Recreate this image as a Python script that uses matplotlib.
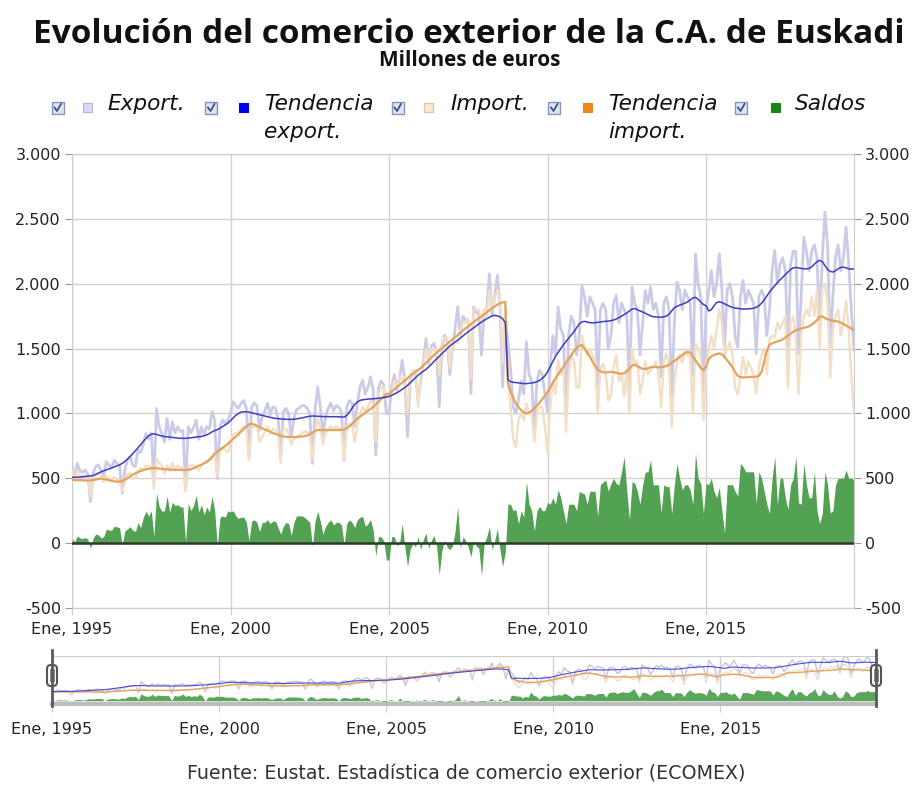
import numpy as np
import matplotlib.pyplot as plt
from matplotlib.patches import Rectangle, FancyBboxPatch
from matplotlib.lines import Line2D
from matplotlib.transforms import IdentityTransform

W, H = 915, 785

# Monthly data, Jan 1995 - Sep 2019 (millones de euros)
export_raw = [
    600, 490, 615, 560, 545, 564, 530, 320, 540, 590, 603, 560,      # 1995
    520, 628, 600, 580, 640, 615, 600, 385, 564, 640, 667, 600,      # 1996
    590, 718, 700, 760, 846, 800, 850, 474, 1038, 900, 846, 780,     # 1997
    962, 800, 936, 850, 897, 860, 870, 410, 897, 850, 890, 949,      # 1998
    800, 897, 840, 900, 880, 1013, 950, 500, 897, 950, 920, 949,     # 1999
    1000, 1090, 1060, 1040, 1080, 1100, 1040, 654, 1050, 1080, 1060, 870,   # 2000
    980, 1020, 1080, 990, 1050, 1040, 960, 690, 1010, 1040, 1000, 820,      # 2001
    960, 1030, 1040, 1060, 1060, 1040, 1000, 615, 1020, 1205, 1050, 830,    # 2002
    980, 1040, 1080, 1020, 1060, 1050, 1010, 640, 1050, 1100, 1080, 900,    # 2003
    1080, 1200, 1256, 1150, 1200, 1282, 1180, 680, 1200, 1250, 1220, 1000,  # 2004
    1000, 1200, 1300, 1180, 1280, 1410, 1250, 820, 1250, 1330, 1300, 1100,  # 2005
    1250, 1400, 1577, 1380, 1520, 1540, 1480, 1051, 1500, 1602, 1560, 1300, # 2006
    1500, 1650, 1820, 1600, 1750, 1720, 1700, 1154, 1820, 1780, 1760, 1450, # 2007
    1795, 1800, 2077, 1750, 1900, 2064, 1850, 1205, 1750, 1550, 1350, 1050, # 2008
    1000, 1100, 1250, 1150, 1551, 1300, 1250, 872, 1250, 1333, 1300, 1150,  # 2009
    1013, 1350, 1600, 1450, 1820, 1650, 1600, 1013, 1600, 1750, 1700, 1450, # 2010
    1600, 1987, 1900, 1750, 1900, 1850, 1800, 1205, 1800, 1850, 1800, 1500, # 2011
    1600, 1850, 1910, 1700, 1850, 1800, 1750, 1180, 1974, 1850, 1800, 1450, # 2012
    1700, 1949, 1850, 1974, 1800, 1850, 1750, 1282, 1850, 1900, 1800, 1128, # 2013
    1700, 2013, 1950, 1800, 1950, 1900, 1850, 1300, 2230, 2000, 1900, 1180, # 2014
    1800, 1950, 2100, 1900, 2000, 2230, 1950, 1513, 1950, 2000, 1900, 1600, # 2015
    1513, 1900, 2025, 1850, 1950, 1900, 1850, 1461, 1900, 1950, 1900, 1600, # 2016
    1800, 2100, 2256, 2000, 2150, 2200, 2100, 1461, 2150, 2250, 2250, 1461, # 2017
    1900, 2359, 2250, 2100, 2250, 2300, 2200, 1650, 2200, 2551, 2300, 1513, # 2018
    1900, 2200, 2300, 2100, 2200, 2436, 2150, 1800, 1490,                   # 2019
]

import_raw = [
    560, 480, 560, 520, 510, 520, 500, 360, 500, 520, 540, 520,      # 1995
    470, 520, 500, 480, 510, 490, 480, 400, 470, 530, 540, 500,      # 1996
    500, 560, 580, 560, 600, 590, 600, 420, 650, 620, 600, 530,      # 1997
    600, 560, 620, 560, 600, 580, 590, 400, 590, 600, 600, 580,      # 1998
    560, 600, 620, 620, 640, 650, 700, 520, 700, 740, 720, 700,      # 1999
    760, 840, 850, 850, 880, 900, 880, 640, 880, 900, 900, 780,      # 2000
    820, 860, 900, 840, 880, 870, 840, 620, 880, 880, 850, 760,      # 2001
    800, 820, 830, 850, 860, 860, 840, 640, 850, 960, 880, 760,      # 2002
    850, 880, 900, 880, 900, 890, 870, 650, 900, 920, 920, 780,      # 2003
    900, 1000, 1050, 1020, 1050, 1100, 1080, 780, 1150, 1200, 1200, 1130,   # 2004
    1130, 1150, 1250, 1200, 1280, 1260, 1280, 1000, 1300, 1330, 1330, 1050, # 2005
    1300, 1370, 1500, 1420, 1500, 1480, 1500, 1295, 1560, 1580, 1590, 1350, # 2006
    1520, 1560, 1540, 1640, 1700, 1700, 1730, 1260, 1800, 1800, 1800, 1700, # 2007
    1800, 1750, 1950, 1800, 1880, 1950, 1900, 1385, 1820, 1250, 1050, 800,  # 2008
    740, 950, 1000, 950, 1077, 1000, 1000, 780, 1000, 1050, 1050, 900,      # 2009
    700, 1050, 1250, 1150, 1410, 1300, 1350, 860, 1300, 1450, 1400, 1200,   # 2010
    1200, 1600, 1520, 1450, 1500, 1450, 1400, 1000, 1350, 1380, 1313, 1100, # 2011
    1140, 1350, 1450, 1250, 1300, 1133, 1350, 1000, 1500, 1388, 1400, 1150, # 2012
    1250, 1400, 1300, 1333, 1350, 1400, 1300, 1050, 1400, 1464, 1364, 900,  # 2013
    1250, 1398, 1450, 1390, 1500, 1450, 1440, 1000, 1538, 1500, 1440, 950,  # 2014
    1340, 1500, 1600, 1500, 1650, 1800, 1700, 1436, 1500, 1550, 1450, 1200, # 2015
    1150, 1285, 1435, 1300, 1400, 1350, 1300, 1150, 1350, 1450, 1500, 1300, # 2016
    1570, 1600, 1589, 1700, 1650, 1700, 1750, 1200, 1700, 1750, 1583, 1150, # 2017
    1600, 1744, 1800, 1750, 1900, 1750, 1950, 1500, 1970, 2000, 1850, 1280, # 2018
    1650, 1750, 1800, 1600, 1700, 1872, 1650, 1300, 1000,                   # 2019
]

export_trend = [
    508, 508, 509, 510, 512, 514, 516, 518, 522, 530, 540, 550,      # 1995
    558, 565, 572, 580, 588, 596, 603, 615, 630, 648, 668, 690,      # 1996
    712, 735, 760, 785, 808, 828, 840, 842, 838, 832, 826, 821,      # 1997
    820, 818, 815, 812, 810, 808, 808, 808, 810, 812, 815, 818,      # 1998
    820, 822, 828, 835, 845, 858, 868, 875, 885, 898, 910, 925,      # 1999
    945, 965, 985, 1000, 1010, 1013, 1013, 1010, 1005, 1000, 995, 990,      # 2000
    985, 980, 975, 970, 965, 962, 960, 958, 956, 955, 954, 954,             # 2001
    955, 958, 962, 966, 970, 975, 978, 980, 980, 978, 977, 976,             # 2002
    975, 975, 975, 975, 975, 974, 973, 972, 985, 1010, 1040, 1070,          # 2003
    1088, 1100, 1105, 1108, 1110, 1112, 1113, 1115, 1117, 1120, 1123, 1127, # 2004
    1130, 1140, 1150, 1160, 1172, 1186, 1200, 1216, 1235, 1255, 1275, 1295, # 2005
    1310, 1325, 1340, 1358, 1378, 1400, 1420, 1440, 1460, 1480, 1500, 1520, # 2006
    1535, 1550, 1565, 1580, 1598, 1615, 1630, 1645, 1660, 1675, 1690, 1705, # 2007
    1718, 1730, 1742, 1752, 1756, 1752, 1745, 1730, 1700, 1260, 1245, 1240, # 2008
    1238, 1235, 1232, 1230, 1230, 1232, 1235, 1238, 1245, 1255, 1270, 1290, # 2009
    1320, 1360, 1400, 1440, 1470, 1500, 1530, 1555, 1580, 1605, 1630, 1660, # 2010
    1690, 1705, 1710, 1705, 1700, 1698, 1700, 1702, 1705, 1708, 1710, 1712, # 2011
    1715, 1720, 1728, 1738, 1750, 1762, 1775, 1790, 1805, 1808, 1800, 1790, # 2012
    1782, 1772, 1762, 1752, 1746, 1744, 1742, 1742, 1745, 1750, 1765, 1790, # 2013
    1815, 1825, 1835, 1842, 1850, 1860, 1875, 1890, 1895, 1880, 1860, 1840, # 2014
    1830, 1790, 1800, 1830, 1855, 1860, 1855, 1845, 1835, 1825, 1818, 1812, # 2015
    1810, 1806, 1804, 1805, 1806, 1808, 1812, 1818, 1830, 1850, 1875, 1905, # 2016
    1935, 1960, 1985, 2008, 2030, 2050, 2070, 2090, 2110, 2122, 2125, 2122, # 2017
    2118, 2115, 2115, 2118, 2130, 2150, 2170, 2180, 2170, 2140, 2110, 2095, # 2018
    2090, 2100, 2115, 2125, 2128, 2122, 2115, 2112, 2115,                   # 2019
]

import_trend = [
    488, 487, 486, 485, 484, 483, 482, 483, 486, 490, 495, 498,      # 1995
    495, 490, 485, 480, 476, 474, 474, 478, 488, 502, 515, 528,      # 1996
    538, 548, 556, 563, 569, 574, 577, 578, 577, 575, 572, 570,      # 1997
    568, 567, 566, 565, 565, 565, 564, 564, 566, 570, 578, 588,      # 1998
    598, 605, 615, 628, 645, 665, 688, 705, 720, 735, 750, 765,      # 1999
    785, 805, 820, 840, 860, 880, 900, 915, 920, 915, 905, 895,      # 2000
    885, 875, 868, 860, 850, 842, 835, 828, 822, 820, 818, 818,      # 2001
    818, 818, 820, 822, 825, 830, 840, 852, 865, 872, 872, 872,      # 2002
    872, 872, 872, 872, 872, 872, 872, 875, 885, 900, 920, 940,      # 2003
    960, 975, 990, 1005, 1020, 1035, 1050, 1070, 1090, 1110, 1130, 1150,    # 2004
    1150, 1168, 1185, 1203, 1220, 1238, 1255, 1272, 1290, 1305, 1320, 1335, # 2005
    1350, 1370, 1390, 1410, 1430, 1450, 1468, 1485, 1502, 1518, 1535, 1552, # 2006
    1570, 1588, 1605, 1622, 1640, 1657, 1672, 1688, 1705, 1720, 1735, 1750, # 2007
    1765, 1780, 1795, 1810, 1825, 1838, 1848, 1856, 1860, 1240, 1170, 1120, # 2008
    1080, 1050, 1025, 1008, 1000, 1005, 1020, 1040, 1060, 1085, 1110, 1135, # 2009
    1165, 1200, 1235, 1270, 1300, 1330, 1360, 1390, 1420, 1450, 1480, 1505, # 2010
    1522, 1526, 1500, 1470, 1440, 1400, 1365, 1340, 1325, 1318, 1315, 1318, # 2011
    1320, 1318, 1312, 1308, 1306, 1310, 1325, 1345, 1370, 1375, 1365, 1352, # 2012
    1345, 1342, 1348, 1355, 1360, 1358, 1355, 1356, 1360, 1365, 1375, 1390, # 2013
    1405, 1420, 1435, 1450, 1465, 1474, 1470, 1440, 1410, 1380, 1350, 1335, # 2014
    1360, 1420, 1440, 1450, 1458, 1462, 1455, 1435, 1410, 1385, 1355, 1320, # 2015
    1290, 1280, 1278, 1278, 1280, 1282, 1282, 1283, 1290, 1320, 1400, 1480, # 2016
    1530, 1540, 1548, 1555, 1562, 1570, 1585, 1600, 1615, 1630, 1640, 1648, # 2017
    1655, 1660, 1665, 1672, 1685, 1700, 1720, 1745, 1748, 1735, 1725, 1720, # 2018
    1715, 1712, 1708, 1700, 1690, 1678, 1665, 1655, 1640,                   # 2019
]

tick_years = [1995, 2000, 2005, 2010, 2015]
tick_labels = ['Ene, %d' % y for y in tick_years]
y_ticks = [-500, 0, 500, 1000, 1500, 2000, 2500, 3000]
y_labels = ['{:,}'.format(v).replace(',', '.') for v in y_ticks]

legend_names = [['Export.'], ['Tendencia', 'export.'], ['Import.'],
                ['Tendencia', 'import.'], ['Saldos']]
legend_colors = ['#d9d9f7', '#0000ee', '#fde6cf', '#f0861e', '#17861a']

# derived series
x = 1995 + np.arange(len(export_raw)) / 12.0
exp_arr = np.array(export_raw)
imp_arr = np.array(import_raw)
saldos = exp_arr - imp_arr

C_EXP = '#cbcbe7'
C_IMP = '#f3dec6'
C_TEXP = '#3d3dc4'
C_TIMP = '#e2a35c'
C_SAL = '#53a153'

fig = plt.figure(figsize=(W / 100, H / 100), dpi=100)
fig.patch.set_facecolor('white')
px = IdentityTransform()


def fx(p):
    return p / W


def fy(p):
    return 1 - p / H


def fit_width(t, width):
    r = fig.canvas.get_renderer()
    bb = t.get_window_extent(r)
    t.set_fontsize(t.get_fontsize() * width / bb.width)


# main chart
ax = fig.add_axes([fx(72), fy(608), (854 - 72) / W, (608 - 154) / H])
ax.fill_between(x, 0, saldos, color=C_SAL, lw=0, zorder=2)
ax.plot(x, export_raw, color=C_EXP, lw=2.0, zorder=3)
ax.plot(x, import_raw, color=C_IMP, lw=1.7, zorder=4)
ax.plot(x, import_trend, color=C_TIMP, lw=1.6, zorder=5)
ax.plot(x, export_trend, color=C_TEXP, lw=1.1, zorder=6)
ax.axhline(0, color='#2b3a2b', lw=1.8, zorder=7)

ax.set_xlim(x[0], x[-1])
ax.set_ylim(-500, 3000)
ax.set_yticks(y_ticks)
ax.set_yticklabels(y_labels)
ax.set_xticks(tick_years)
ax.set_xticklabels(tick_labels)
ax.grid(True, color='#d2d2d2', lw=1)
ax.set_axisbelow(True)
for s in ax.spines.values():
    s.set_color('#cccccc')
ax.tick_params(axis='y', left=True, right=True, labelleft=True, labelright=True,
               length=5, color='#999999', labelsize=11.5, labelcolor='#222222', pad=3)
ax.tick_params(axis='x', length=5, color='#cccccc', labelsize=11.5,
               labelcolor='#222222', pad=5)

# navigator
nav = fig.add_axes([fx(52), fy(704), (876 - 52) / W, (704 - 656) / H])
nav.fill_between(x, 0, saldos, color='#5aa65a', lw=0)
nav.plot(x, export_raw, color='#c4c4de', lw=1.0)
nav.plot(x, import_raw, color='#f0d8bc', lw=0.8)
nav.plot(x, import_trend, color=C_TIMP, lw=1.0)
nav.plot(x, export_trend, color='#4a4ad6', lw=0.8)
nav.set_xlim(x[0], x[-1])
nav.set_ylim(-180, 2470)
nav.set_yticks([])
nav.set_xticks(tick_years)
nav.set_xticklabels(tick_labels)
nav.grid(True, axis='x', color='#d2d2d2', lw=1)
nav.set_axisbelow(True)
nav.tick_params(axis='x', length=6, color='#cccccc', labelsize=11.5,
                labelcolor='#222222', pad=7)
nav.spines['top'].set_color('#cccccc')
nav.spines['bottom'].set_color('#bdbdbd')
nav.spines['bottom'].set_linewidth(3)
nav.spines['left'].set_visible(False)
nav.spines['right'].set_visible(False)

for hx in (52, 876):
    fig.add_artist(Line2D([hx, hx], [H - 650, H - 706], color='#5a5a5a', lw=2,
                          transform=px))
    fig.add_artist(FancyBboxPatch((hx - 5, H - 686), 10, 21,
                                  boxstyle='round,pad=0,rounding_size=4',
                                  fc='white', ec='#555555', lw=1.5, transform=px))
    fig.add_artist(Rectangle((hx - 2.5, H - 682), 5, 13, fc='#8a8a8a', ec='none',
                             transform=px))

# titles
t = fig.text(fx(468.5), fy(43), 'Evolución del comercio exterior de la C.A. de Euskadi',
             ha='center', va='baseline', fontsize=20, fontweight='bold',
             family='Open Sans', color='#111111')
fit_width(t, 873)
t = fig.text(fx(470), fy(66), 'Millones de euros', ha='center', va='baseline',
             fontsize=11, fontweight='bold', family='Open Sans', color='#111111')
fit_width(t, 182)

# legend
cb_x = [57.5, 211, 397.5, 554, 741]
sq_x = [87, 243, 428, 587, 775]
tx_x = [107, 264, 450, 608, 795]
ref = fig.text(0, 0, 'Tendencia', style='italic', fontsize=14)
fit_width(ref, 110)
leg_fs = ref.get_fontsize()
ref.remove()
for i in range(5):
    cx, cy = cb_x[i], 107.5
    fig.add_artist(Rectangle((cx - 6, H - cy - 6), 12, 12, fc='#dfe5f0', ec='#8595b5',
                             lw=1, transform=px))
    fig.add_artist(Line2D([cx - 3, cx - 0.5, cx + 3.5], [H - cy, H - cy - 3.5, H - cy + 3.5],
                          color='#3e5285', lw=1.3, transform=px))
    sc = legend_colors[i]
    ec = '#b5b5d5' if i == 0 else ('#d9c2a8' if i == 2 else sc)
    fig.add_artist(Rectangle((sq_x[i] - 4.5, H - 111.5), 9, 9, fc=sc, ec=ec, lw=0.8,
                             transform=px))
    for j, line in enumerate(legend_names[i]):
        fig.text(fx(tx_x[i]), fy(110 + 28 * j), line, style='italic', fontsize=leg_fs,
                 ha='left', va='baseline', color='#111111')

# footer
t = fig.text(fx(466), fy(780), 'Fuente: Eustat. Estadística de comercio exterior (ECOMEX)',
             ha='center', va='baseline', fontsize=12, color='#333333')
fit_width(t, 557)

fig.savefig('out.png', dpi=100, facecolor='white')
